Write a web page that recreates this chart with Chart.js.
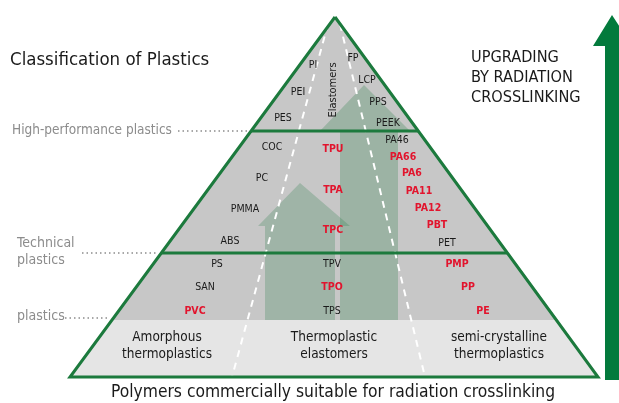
<!DOCTYPE html>
<html>
<head>
<meta charset="utf-8">
<script src="https://cdn.jsdelivr.net/npm/chart.js@4.4.0/dist/chart.umd.min.js"></script>
<style>
  body { margin: 0; background: #fff; }
  #wrap { width: 619px; height: 403px; position: relative; }
</style>
</head>
<body>
<div id="wrap"><canvas id="pyramid"></canvas></div>
<script>
// DIAGRAM DATA (drawing units = pixels of the reference, y downwards)
const pyramidOutline = [[335, 17], [70, 377], [598, 377], [335, 17]]
const upperArea = [[335, 17], [112, 320], [558, 320]]
const baseBand = [[112, 320], [70, 377], [598, 377], [558, 320]]
const levelLineHigh = [[251, 131], [418, 131]]
const levelLineTech = [[161, 253], [507, 253]]
const dashLeft = [[328, 24], [232, 377]]
const dashRight = [[340, 24], [425, 377]]
const leaderHigh = [[178, 131], [248, 131]]
const leaderTech = [[82, 253], [158, 253]]
const leaderStd = [[65, 318], [110, 318]]
const arrowRight = [[364, 85], [410, 131], [398, 131], [398, 320], [340, 320], [340, 131], [320, 131]]
const arrowLeft = [[300, 183], [350, 226], [335, 226], [335, 320], [265, 320], [265, 226], [258, 226]]
const bigArrow = [[612, 15], [632, 46], [619, 46], [619, 380], [605, 380], [605, 46], [593, 46]]

const polymers = ["PI", "PEI", "PES", "FP", "LCP", "PPS", "PEEK",
  "COC", "PC", "PMMA", "ABS", "TPU", "TPA", "TPC",
  "PA46", "PA66", "PA6", "PA11", "PA12", "PBT", "PET",
  "PS", "SAN", "PVC", "TPV", "TPO", "TPS", "PMP", "PP", "PE"]
const polymerX = [313, 298, 283, 353, 367, 378, 388,
  272, 262, 245, 230, 333, 333, 333,
  397, 403, 412, 419, 428, 437, 447,
  217, 205, 195, 332, 332, 332, 457, 468, 483]
const polymerY = [65, 92, 118, 58, 80, 102, 123,
  147, 178, 209, 241, 149, 190, 230,
  140, 157, 173, 191, 208, 225, 243,
  264, 287, 311, 264, 287, 311, 264, 287, 311]
const suitable = ["TPU", "TPA", "TPC", "PA66", "PA6", "PA11", "PA12", "PBT",
  "PVC", "TPO", "PMP", "PP", "PE"]

const groupNames = [["Amorphous", "thermoplastics"], ["Thermoplastic", "elastomers"],
  ["semi-crystalline", "thermoplastics"]]
const groupX = [167, 334, 499]

const levelNames = [["High-performance plastics"], ["Technical", "plastics"], ["plastics"]]
const levelY = [130, 243, 316]

const upgradeText = ["UPGRADING", "BY RADIATION", "CROSSLINKING"]
const titleText = "Classification of Plastics"
const captionText = "Polymers commercially suitable for radiation crosslinking"

const GREEN = "#1c7a3d"
const RED = "#e2142d"
const FONT = '"DejaVu Sans Condensed", "Liberation Sans", sans-serif'

function toXY(list) {
  return list.map((p) => ({ x: p[0], y: p[1] }))
}

function lineSet(list, color, width, dash, order) {
  return {
    data: toXY(list),
    showLine: true,
    borderColor: color,
    borderWidth: width,
    borderDash: dash,
    pointRadius: 0,
    fill: false,
    clip: false,
    order: order,
  }
}

// fills behind the lines, text on top
const shapesPlugin = {
  id: "shapes",
  beforeDatasetsDraw(chart) {
    const c = chart.ctx
    const sx = chart.scales.x
    const sy = chart.scales.y
    const poly = (list, color) => {
      c.beginPath()
      list.forEach((p, i) => {
        const px = sx.getPixelForValue(p[0])
        const py = sy.getPixelForValue(p[1])
        if (i == 0) c.moveTo(px, py)
        else c.lineTo(px, py)
      })
      c.closePath()
      c.fillStyle = color
      c.fill()
    }
    c.save()
    poly(upperArea, "#c7c7c7")
    poly(baseBand, "#e5e5e5")
    poly(arrowRight, "rgba(40,125,70,0.27)")
    poly(arrowLeft, "rgba(40,125,70,0.25)")
    poly(bigArrow, "#037a3c")
    c.restore()
  },
  afterDatasetsDraw(chart) {
    const c = chart.ctx
    const sx = chart.scales.x
    const sy = chart.scales.y
    const X = (v) => sx.getPixelForValue(v)
    const Y = (v) => sy.getPixelForValue(v)
    c.save()
    c.textBaseline = "middle"

    // polymer names
    c.textAlign = "center"
    polymers.forEach((name, i) => {
      const red = suitable.includes(name)
      c.font = (red ? "bold " : "") + "10.5px " + FONT
      c.fillStyle = red ? RED : "#1a1a1a"
      c.fillText(name, X(polymerX[i]), Y(polymerY[i]))
    })

    // rotated label
    c.save()
    c.translate(X(333), Y(90))
    c.rotate(-Math.PI / 2)
    c.font = "11px " + FONT
    c.fillStyle = "#1a1a1a"
    c.fillText("Elastomers", 0, 0)
    c.restore()

    // group names in the base band
    c.font = "13.5px " + FONT
    c.fillStyle = "#1a1a1a"
    groupNames.forEach((lines, i) => {
      lines.forEach((t, j) => c.fillText(t, X(groupX[i]), Y(337 + j * 17)))
    })

    // level names on the left
    c.textAlign = "left"
    c.font = "13.5px " + FONT
    c.fillStyle = "#8c8c8c"
    levelNames.forEach((lines, i) => {
      lines.forEach((t, j) => {
        c.font = (i == 0 ? "13.5px " : "14px ") + FONT
        c.fillText(t, X(i == 0 ? 12 : 17), Y(levelY[i] + j * 17))
      })
    })

    // titles
    c.fillStyle = "#1a1a1a"
    c.font = "18.5px " + FONT
    c.fillText(titleText, X(10), Y(60))
    c.font = "16.2px " + FONT
    upgradeText.forEach((t, i) => c.fillText(t, X(471), Y(58 + i * 20)))
    c.textAlign = "center"
    c.font = "17.3px " + FONT
    c.fillText(captionText, X(333), Y(393))
    c.restore()
  },
}

const ctx = document.getElementById("pyramid").getContext("2d")

new Chart(ctx, {
  type: "scatter",
  data: {
    datasets: [
      lineSet(pyramidOutline, GREEN, 3, [], 1),
      lineSet(levelLineHigh, GREEN, 3, [], 2),
      lineSet(levelLineTech, GREEN, 3, [], 3),
      lineSet(dashLeft, "#ffffff", 2, [7, 6], 4),
      lineSet(dashRight, "#ffffff", 2, [7, 6], 5),
      lineSet(leaderHigh, "#8c8c8c", 1.3, [1.5, 3], 6),
      lineSet(leaderTech, "#8c8c8c", 1.3, [1.5, 3], 7),
      lineSet(leaderStd, "#8c8c8c", 1.3, [1.5, 3], 8),
    ],
  },
  options: {
    responsive: true,
    maintainAspectRatio: false,
    animation: false,
    layout: { padding: 0 },
    plugins: {
      legend: { display: false },
      tooltip: { enabled: false },
    },
    scales: {
      x: { type: "linear", min: 0, max: 619, display: false },
      y: { type: "linear", min: 0, max: 403, reverse: true, display: false },
    },
  },
  plugins: [shapesPlugin],
})
</script>
</body>
</html>
